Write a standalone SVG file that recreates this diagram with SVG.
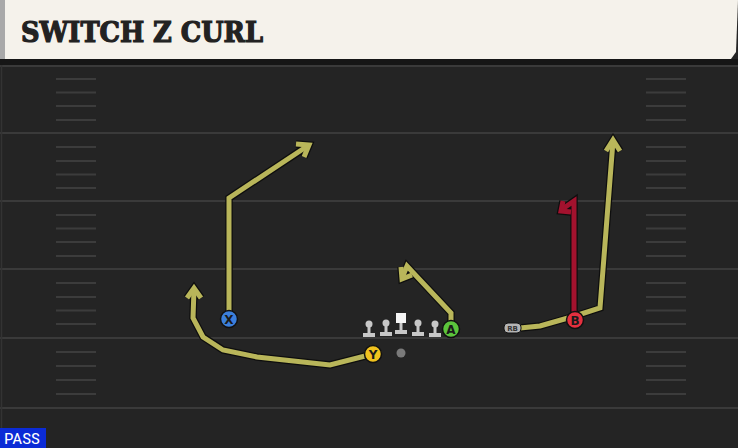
<svg xmlns="http://www.w3.org/2000/svg" width="738" height="448" viewBox="0 0 738 448">
<style>
.yl{fill:none;stroke:#b9b65a;stroke-width:5;stroke-linejoin:miter;stroke-linecap:butt}
.rd{fill:none;stroke:#a3122e;stroke-width:5;stroke-linejoin:miter}
.ol{fill:none;stroke:#0e0e0e;stroke-width:7.5;stroke-linejoin:miter}
.yd{fill:none;stroke:#3a3a3a;stroke-width:2}
.hash{stroke:#3c3c3c;stroke-width:2}
.lbl{font-family:"DejaVu Sans",sans-serif;font-size:12px;font-weight:bold;fill:#1a1a1a;text-anchor:middle}
.ol2{stroke:#111;stroke-width:1.5}
.lm{fill:#c8c8c8}
</style>
<rect width="738" height="448" fill="#242424"/>
<rect x="0" y="59" width="738" height="6" fill="#161616"/>
<g id="field">
<line class="yd" x1="0" y1="66" x2="738" y2="66"/>
<line class="yd" x1="0" y1="133" x2="738" y2="133"/>
<line class="yd" x1="0" y1="201" x2="738" y2="201"/>
<line class="yd" x1="0" y1="269" x2="738" y2="269"/>
<line class="yd" x1="0" y1="338" x2="738" y2="338"/>
<line class="yd" x1="0" y1="408" x2="738" y2="408"/>
<line x1="1.5" y1="65" x2="1.5" y2="448" stroke="#333" stroke-width="1.5"/>
<g class="hash">
<path d="M56 79H96M56 92.5H96M56 106H96M56 120H96M56 147H96M56 161H96M56 174.5H96M56 188H96M56 215H96M56 228.5H96M56 242H96M56 256H96M56 283H96M56 297H96M56 310.5H96M56 324H96M56 352H96M56 366H96M56 380H96M56 394H96"/>
<path d="M646 79H686M646 92.5H686M646 106H686M646 120H686M646 147H686M646 161H686M646 174.5H686M646 188H686M646 215H686M646 228.5H686M646 242H686M646 256H686M646 283H686M646 297H686M646 310.5H686M646 324H686M646 352H686M646 366H686M646 380H686M646 394H686"/>
</g>
</g>
<g id="header">
<polygon points="0,0 738,0 736,52 731,59 0,59" fill="#f5f2eb"/>
<rect x="0" y="0" width="5" height="59" fill="#a9a9a9"/>
<text x="21" y="42" font-family="'DejaVu Serif',serif" font-weight="bold" font-size="27" fill="#222" stroke="#222" stroke-width="1.2" textLength="242" lengthAdjust="spacingAndGlyphs">SWITCH Z CURL</text>
</g>
<g id="connectors">
<polyline class="ol" points="229,319 229,198 309,145"/>
<polyline class="ol" points="296,144 309,145 304,157"/>
<polyline class="yl" points="229,319 229,198 309,145"/>
<polyline class="yl" points="296,144 309,145 304,157"/>
<polyline class="ol" points="373,354 330,365 257,357 223,350 203,337 193,318 194,289"/>
<polyline class="ol" points="187,298 194,288 201,298"/>
<polyline class="yl" points="373,354 330,365 257,357 223,350 203,337 193,318 194,289"/>
<polyline class="yl" points="187,298 194,288 201,298"/>
<polyline class="ol" points="451,329 451,313 407,266 402,278"/>
<polyline class="ol" points="401,267 402,279 412,275"/>
<polyline class="yl" points="451,329 451,313 407,266 402,278"/>
<polyline class="yl" points="401,267 402,279 412,275"/>
<polyline class="ol" points="520,328 540,326 575,316 600,308 613,141"/>
<polyline class="ol" points="606,151 613,140 620,151"/>
<polyline class="yl" points="520,328 540,326 575,316 600,308 613,141"/>
<polyline class="yl" points="606,151 613,140 620,151"/>
<polyline class="ol" points="574,319 574,201 561,210"/>
<polyline class="ol" points="563,201 561,211 571,212"/>
<polyline class="rd" points="574,319 574,201 561,210"/>
<polyline class="rd" points="563,201 561,211 571,212"/>
</g>
<g id="line">
<g id="lt"><circle cx="369" cy="324" r="3.5" class="lm"/><rect x="367.5" y="324" width="3" height="10" class="lm"/><rect x="363" y="333" width="12" height="4" class="lm"/></g>
<g id="lg"><circle cx="386" cy="323" r="3.5" class="lm"/><rect x="384.5" y="323" width="3" height="10" class="lm"/><rect x="380" y="332" width="12" height="4" class="lm"/></g>
<g id="c"><rect x="396" y="313" width="10" height="10" fill="#f4f4f4"/><rect x="399.5" y="323" width="3" height="8" class="lm"/><rect x="395" y="330" width="12" height="4" class="lm"/></g>
<g id="rg"><circle cx="418" cy="323" r="3.5" class="lm"/><rect x="416.5" y="323" width="3" height="10" class="lm"/><rect x="412" y="332" width="12" height="4" class="lm"/></g>
<g id="rt"><circle cx="435" cy="324" r="3.5" class="lm"/><rect x="433.5" y="324" width="3" height="10" class="lm"/><rect x="429" y="333" width="12" height="4" class="lm"/></g>
</g>
<g id="qb"><circle cx="401" cy="353" r="4.5" fill="#7a7a7a"/></g>
<g id="rb">
<rect x="504" y="323" width="17" height="10" rx="4" fill="#b4b4b4" stroke="#111" stroke-width="1"/>
<text x="512.5" y="331" font-family="'DejaVu Sans',sans-serif" font-size="7" font-weight="bold" fill="#333" text-anchor="middle">RB</text>
</g>
<g id="X"><circle cx="229" cy="319" r="8.5" fill="#3b7fdc" class="ol2"/><text x="229" y="323.5" class="lbl">X</text></g>
<g id="Y"><circle cx="373" cy="354" r="8.5" fill="#f0c21e" class="ol2"/><text x="373" y="358.5" class="lbl">Y</text></g>
<g id="A"><circle cx="451" cy="329" r="8.5" fill="#5bc43c" class="ol2"/><text x="451" y="333.5" class="lbl">A</text></g>
<g id="B"><circle cx="575" cy="320" r="8.5" fill="#e5303f" class="ol2"/><text x="575" y="324.5" class="lbl">B</text></g>
<g id="pass">
<rect x="0" y="428" width="46" height="20" fill="#0b2bd6"/>
<text x="4" y="444" font-family="'Liberation Sans Narrow','Roboto Condensed','Liberation Sans',sans-serif" font-size="15" fill="#fff" textLength="36" lengthAdjust="spacingAndGlyphs">PASS</text>
</g>
</svg>
